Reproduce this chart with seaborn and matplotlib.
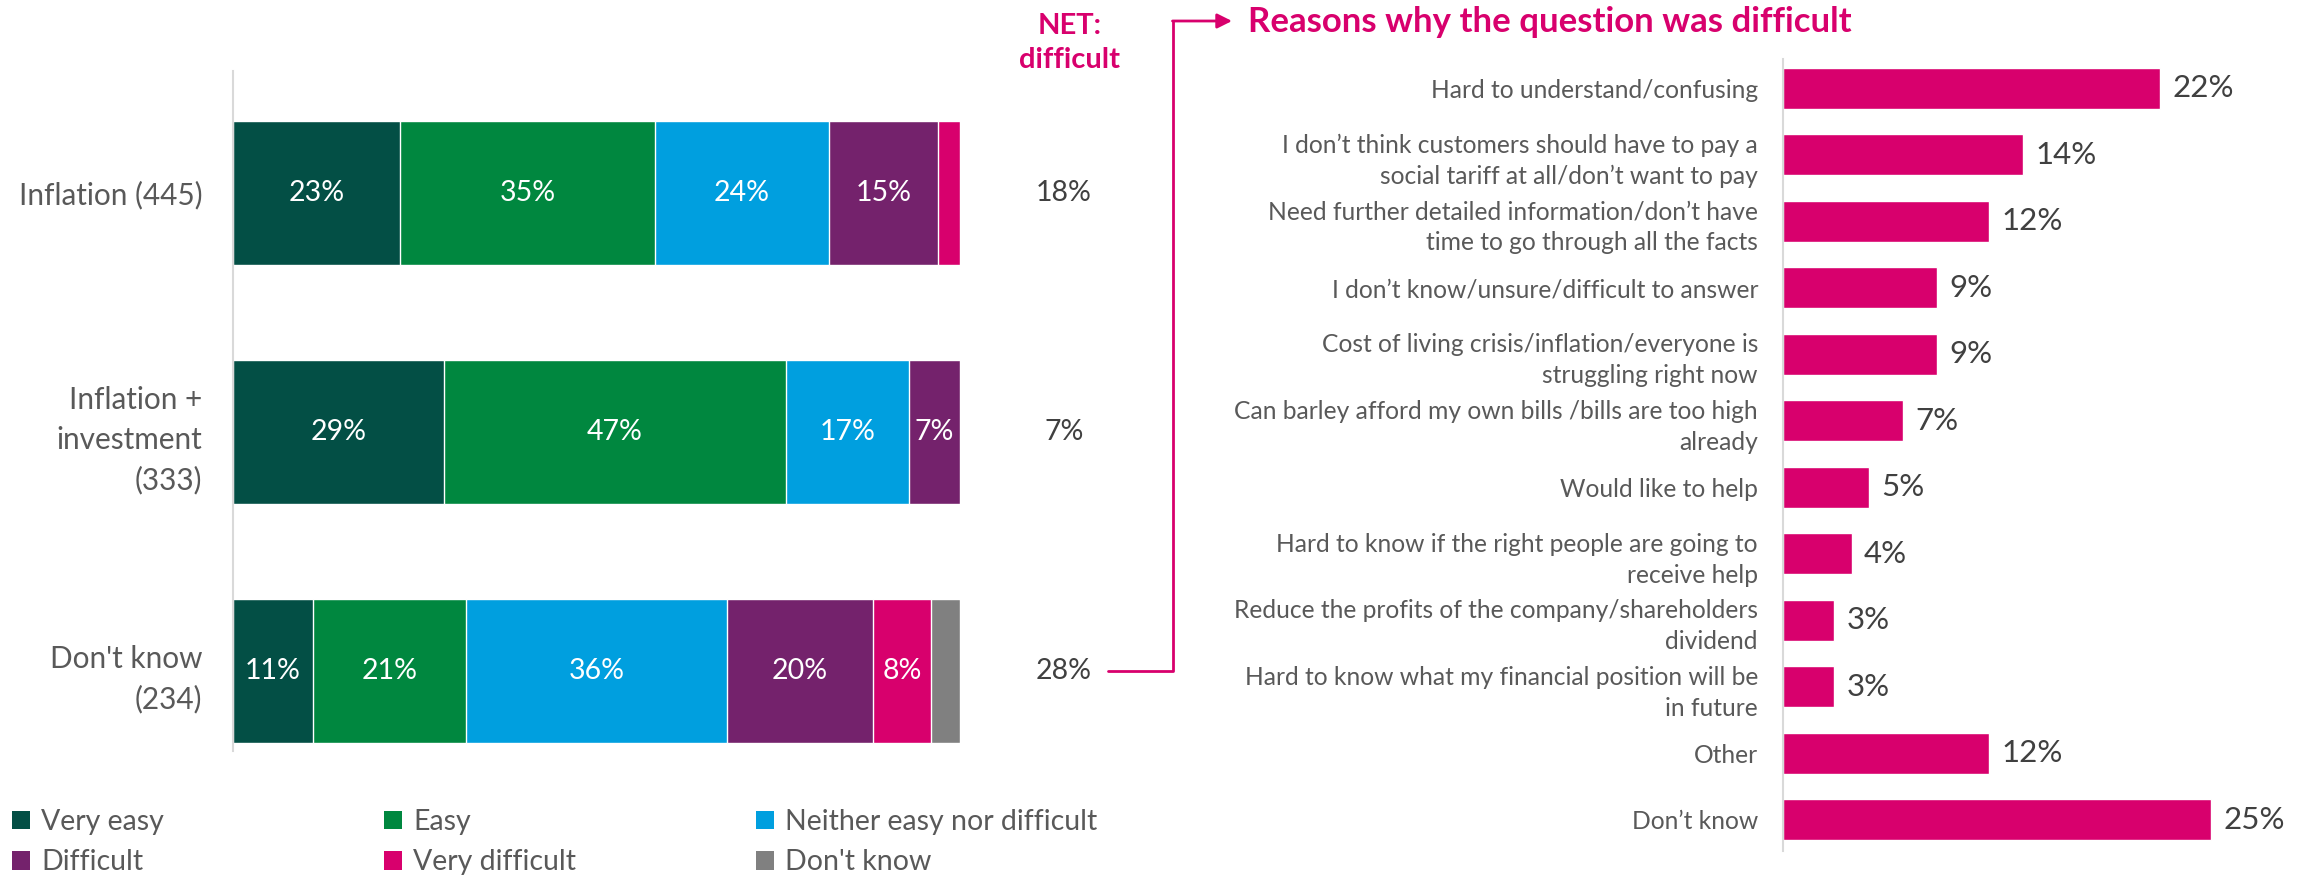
import numpy as np
import pandas as pd
import matplotlib
matplotlib.use("Agg")
import matplotlib.pyplot as plt
from matplotlib.patches import Patch, FancyArrowPatch
from matplotlib.lines import Line2D
import seaborn as sns

# ---- data -------------------------------------------------------------
groups = ["Inflation (445)", "Inflation +\ninvestment\n(333)", "Don't know\n(234)"]
segments = ["Very easy", "Easy", "Neither easy nor difficult",
            "Difficult", "Very difficult", "Don't know"]
very_easy = [23, 29, 11]
easy = [35, 47, 21]
neither = [24, 17, 36]
difficult = [15, 7, 20]
very_difficult = [3, 0.5, 8]
dont_know = [0.4, 0, 4]
net_difficult = [18, 7, 28]

reasons = [
    "Hard to understand/confusing",
    "I don\u2019t think customers should have to pay a\nsocial tariff at all/don\u2019t want to pay",
    "Need further detailed information/don\u2019t have\ntime to go through all the facts",
    "I don\u2019t know/unsure/difficult to answer",
    "Cost of living crisis/inflation/everyone is\nstruggling right now",
    "Can barley afford my own bills /bills are too high\nalready",
    "Would like to help",
    "Hard to know if the right people are going to\nreceive help",
    "Reduce the profits of the company/shareholders\ndividend",
    "Hard to know what my financial position will be\nin future",
    "Other",
    "Don\u2019t know",
]
reason_pct = [22, 14, 12, 9, 9, 7, 5, 4, 3, 3, 12, 25]

# ---- style ------------------------------------------------------------
seg_colors = ["#034F45", "#00873F", "#009FDF", "#74226C", "#D8006D", "#808080"]
PINK = "#D8006D"
LABEL_GREY = "#595959"
VALUE_GREY = "#404040"
AXIS_GREY = "#D9D9D9"

sns.set_theme(style="white")
plt.rcParams["font.family"] = ["Lato", "DejaVu Sans"]

W, H = 2308, 876
fig = plt.figure(figsize=(W / 100, H / 100), dpi=100)


def px_box(x0, y0, x1, y1):
    return [x0 / W, 1 - y1 / H, (x1 - x0) / W, (y1 - y0) / H]


# ---- left: stacked ease-of-answering bars -----------------------------
axL = fig.add_axes(px_box(233, 71, 960, 751))
shares = pd.DataFrame(
    dict(zip(segments, [very_easy, easy, neither, difficult, very_difficult, dont_know])),
    index=groups,
)
cum = shares.cumsum(axis=1)
for seg, col in reversed(list(zip(segments, seg_colors))):
    sns.barplot(x=cum[seg].values, y=groups, orient="h", color=col,
                saturation=1, width=0.6, errorbar=None, ax=axL)

for i, g in enumerate(groups):
    for seg in segments:
        val = shares.loc[g, seg]
        if val >= 5:
            start = cum.loc[g, seg] - val
            axL.text(start + val / 2, i, f"{val:.0f}%", ha="center", va="center",
                     color="white", fontsize=20.5)
    axL.text(114.3, i, f"{net_difficult[i]}%", ha="center", va="center",
             color=VALUE_GREY, fontsize=20.5, clip_on=False)

axL.set_xlim(0, 100)
axL.set_ylim(2.335, -0.51)
axL.set_xticks([])
axL.set_xlabel("")
axL.set_ylabel("")
for side in ["top", "right", "bottom"]:
    axL.spines[side].set_visible(False)
axL.spines["left"].set_color(AXIS_GREY)
axL.spines["left"].set_linewidth(1.5)
axL.tick_params(axis="y", length=0, pad=22, labelsize=21.4, labelcolor=LABEL_GREY)
for lbl in axL.get_yticklabels():
    lbl.set_linespacing(1.5)

fig.text(1070 / W, 1 - 43 / H, "NET:\ndifficult", ha="center", va="center",
         multialignment="center", linespacing=1.4, fontsize=21,
         fontweight="bold", color=PINK)

# ---- right: reasons bars ----------------------------------------------
axR = fig.add_axes(px_box(1783, 59, 2297, 851))
sns.barplot(x=reason_pct, y=reasons, orient="h", color=PINK, saturation=1,
            width=0.62, errorbar=None, ax=axR)
axR.bar_label(axR.containers[0], labels=[f"{v}%" for v in reason_pct],
              padding=9, fontsize=22.5, color=VALUE_GREY)
axR.set_xlim(0, 30)
axR.set_ylim(11.47, -0.44)
axR.set_xticks([])
axR.set_xlabel("")
axR.set_ylabel("")
for side in ["top", "right", "bottom"]:
    axR.spines[side].set_visible(False)
axR.spines["left"].set_color(AXIS_GREY)
axR.spines["left"].set_linewidth(1.5)
axR.tick_params(axis="y", length=0, pad=18, labelsize=17.7, labelcolor=LABEL_GREY)
for lbl in axR.get_yticklabels():
    lbl.set_linespacing(1.42)

fig.text(1248 / W, 1 - 22 / H, "Reasons why the question was difficult",
         ha="left", va="center", fontsize=25, fontweight="bold", color=PINK)

# ---- connector from the "Don't know" NET value to the reasons panel ----
to_fig = fig.transFigure.inverted()
y_start = to_fig.transform(axL.transData.transform((0, 2)))[1]
x_start, x_turn, x_tip = 1108 / W, 1173 / W, 1232 / W
y_top = 1 - 21 / H
fig.add_artist(Line2D([x_start, x_turn, x_turn], [y_start, y_start, y_top],
                      transform=fig.transFigure, color=PINK, lw=2))
fig.add_artist(FancyArrowPatch((x_turn - 0.5 / W, y_top), (x_tip, y_top),
                               transform=fig.transFigure, arrowstyle="-|>",
                               mutation_scale=22, color=PINK, lw=2,
                               shrinkA=0, shrinkB=0))

# ---- legend in three columns ------------------------------------------
handles = [Patch(facecolor=c, edgecolor="none", label=s)
           for s, c in zip(segments, seg_colors)]
col_x = [12, 384, 756]
for k, x in enumerate(col_x):
    fig.legend(handles=[handles[k], handles[k + 3]], loc="upper left",
               bbox_to_anchor=(x / W, 1 - 809 / H), frameon=False,
               fontsize=20.5, labelcolor=LABEL_GREY, handlelength=0.63,
               handleheight=0.63, handletextpad=0.4, labelspacing=0.5,
               borderpad=0, borderaxespad=0)

fig.savefig("out.png", dpi=100)
